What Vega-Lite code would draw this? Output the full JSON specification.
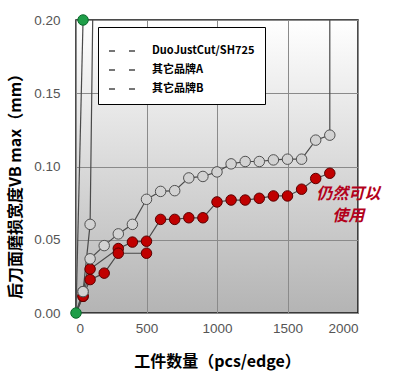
{
  "$schema": "https://vega.github.io/schema/vega-lite/v6.json",
  "width": 282,
  "height": 293,
  "autosize": {"type": "none"},
  "padding": {"left": 76, "top": 20, "right": 43, "bottom": 65},
  "background": "white",
  "config": {
    "view": {
      "fill": {"gradient": "linear", "x1": 0, "y1": 0, "x2": 0, "y2": 1, "stops": [{"offset": 0, "color": "#ffffff"}, {"offset": 1, "color": "#b4b4b4"}]},
      "stroke": "#111111",
      "strokeWidth": 1.5
    },
    "axis": {
      "grid": true,
      "gridColor": "#8a8a8a",
      "gridWidth": 1,
      "domain": false,
      "ticks": false,
      "labelFont": "Liberation Sans",
      "labelFontSize": 13.5,
      "labelColor": "#555555",
      "titleFont": "Noto Sans CJK SC",
      "titleFontWeight": "bold",
      "titleFontSize": 16,
      "titleColor": "#000000"
    }
  },
  "datasets": {
    "series": [
      {"line": "R1", "brand": "DuoJustCut/SH725", "marker": "none", "i": 0, "x": 0, "y": 0},
      {"line": "R1", "brand": "DuoJustCut/SH725", "marker": "red", "i": 1, "x": 50, "y": 0.0114},
      {"line": "R1", "brand": "DuoJustCut/SH725", "marker": "red", "i": 2, "x": 100, "y": 0.030},
      {"line": "R1", "brand": "DuoJustCut/SH725", "marker": "red", "i": 3, "x": 300, "y": 0.044},
      {"line": "R1", "brand": "DuoJustCut/SH725", "marker": "red", "i": 4, "x": 400, "y": 0.0484},
      {"line": "R1", "brand": "DuoJustCut/SH725", "marker": "red", "i": 5, "x": 500, "y": 0.049},
      {"line": "R1", "brand": "DuoJustCut/SH725", "marker": "red", "i": 6, "x": 600, "y": 0.0639},
      {"line": "R1", "brand": "DuoJustCut/SH725", "marker": "red", "i": 7, "x": 700, "y": 0.0639},
      {"line": "R1", "brand": "DuoJustCut/SH725", "marker": "red", "i": 8, "x": 800, "y": 0.065},
      {"line": "R1", "brand": "DuoJustCut/SH725", "marker": "red", "i": 9, "x": 900, "y": 0.065},
      {"line": "R1", "brand": "DuoJustCut/SH725", "marker": "red", "i": 10, "x": 1000, "y": 0.0758},
      {"line": "R1", "brand": "DuoJustCut/SH725", "marker": "red", "i": 11, "x": 1100, "y": 0.0771},
      {"line": "R1", "brand": "DuoJustCut/SH725", "marker": "red", "i": 12, "x": 1200, "y": 0.0771},
      {"line": "R1", "brand": "DuoJustCut/SH725", "marker": "red", "i": 13, "x": 1300, "y": 0.0783},
      {"line": "R1", "brand": "DuoJustCut/SH725", "marker": "red", "i": 14, "x": 1400, "y": 0.0799},
      {"line": "R1", "brand": "DuoJustCut/SH725", "marker": "red", "i": 15, "x": 1500, "y": 0.0799},
      {"line": "R1", "brand": "DuoJustCut/SH725", "marker": "red", "i": 16, "x": 1600, "y": 0.0845},
      {"line": "R1", "brand": "DuoJustCut/SH725", "marker": "red", "i": 17, "x": 1700, "y": 0.0918},
      {"line": "R1", "brand": "DuoJustCut/SH725", "marker": "red", "i": 18, "x": 1800, "y": 0.0954},
      {"line": "R2", "brand": "DuoJustCut/SH725", "marker": "none", "i": 0, "x": 0, "y": 0},
      {"line": "R2", "brand": "DuoJustCut/SH725", "marker": "red", "i": 1, "x": 50, "y": 0.0114},
      {"line": "R2", "brand": "DuoJustCut/SH725", "marker": "red", "i": 2, "x": 100, "y": 0.0228},
      {"line": "R2", "brand": "DuoJustCut/SH725", "marker": "red", "i": 3, "x": 200, "y": 0.0272},
      {"line": "R2", "brand": "DuoJustCut/SH725", "marker": "red", "i": 4, "x": 300, "y": 0.0408},
      {"line": "R2", "brand": "DuoJustCut/SH725", "marker": "red", "i": 5, "x": 500, "y": 0.0408},
      {"line": "G1", "brand": "其它品牌A", "marker": "none", "i": 0, "x": 0, "y": 0},
      {"line": "G1", "brand": "其它品牌A", "marker": "gray", "i": 1, "x": 50, "y": 0.0146},
      {"line": "G1", "brand": "其它品牌A", "marker": "gray", "i": 2, "x": 100, "y": 0.037},
      {"line": "G1", "brand": "其它品牌A", "marker": "gray", "i": 3, "x": 200, "y": 0.046},
      {"line": "G1", "brand": "其它品牌A", "marker": "gray", "i": 4, "x": 300, "y": 0.054},
      {"line": "G1", "brand": "其它品牌A", "marker": "gray", "i": 5, "x": 400, "y": 0.0605},
      {"line": "G1", "brand": "其它品牌A", "marker": "gray", "i": 6, "x": 500, "y": 0.0776},
      {"line": "G1", "brand": "其它品牌A", "marker": "gray", "i": 7, "x": 600, "y": 0.083},
      {"line": "G1", "brand": "其它品牌A", "marker": "gray", "i": 8, "x": 700, "y": 0.0835},
      {"line": "G1", "brand": "其它品牌A", "marker": "gray", "i": 9, "x": 800, "y": 0.0922},
      {"line": "G1", "brand": "其它品牌A", "marker": "gray", "i": 10, "x": 900, "y": 0.0932},
      {"line": "G1", "brand": "其它品牌A", "marker": "gray", "i": 11, "x": 1000, "y": 0.0963},
      {"line": "G1", "brand": "其它品牌A", "marker": "gray", "i": 12, "x": 1100, "y": 0.1018},
      {"line": "G1", "brand": "其它品牌A", "marker": "gray", "i": 13, "x": 1200, "y": 0.1034},
      {"line": "G1", "brand": "其它品牌A", "marker": "gray", "i": 14, "x": 1300, "y": 0.1034},
      {"line": "G1", "brand": "其它品牌A", "marker": "gray", "i": 15, "x": 1400, "y": 0.1045},
      {"line": "G1", "brand": "其它品牌A", "marker": "gray", "i": 16, "x": 1500, "y": 0.105},
      {"line": "G1", "brand": "其它品牌A", "marker": "gray", "i": 17, "x": 1600, "y": 0.105},
      {"line": "G1", "brand": "其它品牌A", "marker": "gray", "i": 18, "x": 1700, "y": 0.118},
      {"line": "G1", "brand": "其它品牌A", "marker": "gray", "i": 19, "x": 1800, "y": 0.1214},
      {"line": "G1", "brand": "其它品牌A", "marker": "none", "i": 20, "x": 1800, "y": 0.25},
      {"line": "G2", "brand": "其它品牌B", "marker": "none", "i": 0, "x": 0, "y": 0},
      {"line": "G2", "brand": "其它品牌B", "marker": "gray", "i": 1, "x": 50, "y": 0.0146},
      {"line": "G2", "brand": "其它品牌B", "marker": "gray", "i": 2, "x": 100, "y": 0.0605},
      {"line": "G2", "brand": "其它品牌B", "marker": "none", "i": 3, "x": 125, "y": 0.25},
      {"line": "GR", "brand": "其它品牌B", "marker": "green", "i": 0, "x": 0, "y": 0},
      {"line": "GR", "brand": "其它品牌B", "marker": "green", "i": 1, "x": 50, "y": 0.2}
    ],
    "notes": [
      {"x": 1930, "y": 0.081, "t": "仍然可以"},
      {"x": 1930, "y": 0.066, "t": "使用"}
    ]
  },
  "layer": [
    {
      "data": {"name": "series"},
      "mark": {"type": "line", "clip": true, "strokeWidth": 1.2},
      "encoding": {
        "x": {"field": "x", "type": "quantitative", "scale": {"domain": [0, 2000], "nice": false},
          "axis": {"values": [0, 500, 1000, 1500, 2000], "format": "d", "labelPadding": 8, "title": "工件数量（pcs/edge）", "titleY": 48, "titleBaseline": "middle"}},
        "y": {"field": "y", "type": "quantitative", "scale": {"domain": [0, 0.2], "nice": false},
          "axis": {"values": [0, 0.05, 0.1, 0.15, 0.2], "format": ".2f", "labelPadding": 16, "title": "后刀面磨损宽度VB max（mm）", "titleX": -61, "titleY": 162, "titleAngle": -90, "titleAlign": "center", "titleBaseline": "middle"}},
        "color": {"field": "brand", "type": "nominal",
          "scale": {"domain": ["DuoJustCut/SH725", "其它品牌A", "其它品牌B"], "range": ["#4a4a4a", "#4a4a4a", "#4a4a4a"]},
          "legend": {
            "title": null, "orient": "none", "legendX": 22, "legendY": 7,
            "fillColor": "#ffffff", "strokeColor": "#000000", "padding": 10, "cornerRadius": 0,
            "symbolType": "stroke", "symbolSize": 676, "symbolStrokeWidth": 1.3, "symbolDash": [6, 14],
            "labelFont": "Noto Sans CJK SC", "labelFontWeight": "bold", "labelFontSize": 11, "labelColor": "#000000",
            "labelOffset": 16, "rowPadding": -1,
            "encode": {"symbols": {"update": {"stroke": {"value": "#000000"}}}}
          }},
        "detail": {"field": "line", "type": "nominal"},
        "order": {"field": "i", "type": "quantitative"}
      }
    },
    {
      "data": {"name": "series"},
      "transform": [{"filter": "datum.marker != 'none'"}],
      "mark": {"type": "point", "shape": "circle", "filled": true, "size": 110, "strokeWidth": 1, "opacity": 1},
      "encoding": {
        "x": {"field": "x", "type": "quantitative"},
        "y": {"field": "y", "type": "quantitative"},
        "fill": {"field": "marker", "type": "nominal", "scale": {"domain": ["red", "gray", "green"], "range": ["#c00000", "#d2d2d2", "#1e9e48"]}, "legend": null},
        "stroke": {"field": "marker", "type": "nominal", "scale": {"domain": ["red", "gray", "green"], "range": ["#5a0000", "#505050", "#0b6a2c"]}, "legend": null}
      }
    },
    {
      "data": {"name": "notes"},
      "mark": {"type": "text", "font": "Noto Sans CJK SC", "fontSize": 16, "fontStyle": "italic", "fontWeight": "bold", "color": "#b3001b", "align": "center", "baseline": "middle"},
      "encoding": {
        "x": {"field": "x", "type": "quantitative"},
        "y": {"field": "y", "type": "quantitative"},
        "text": {"field": "t"}
      }
    }
  ]
}
